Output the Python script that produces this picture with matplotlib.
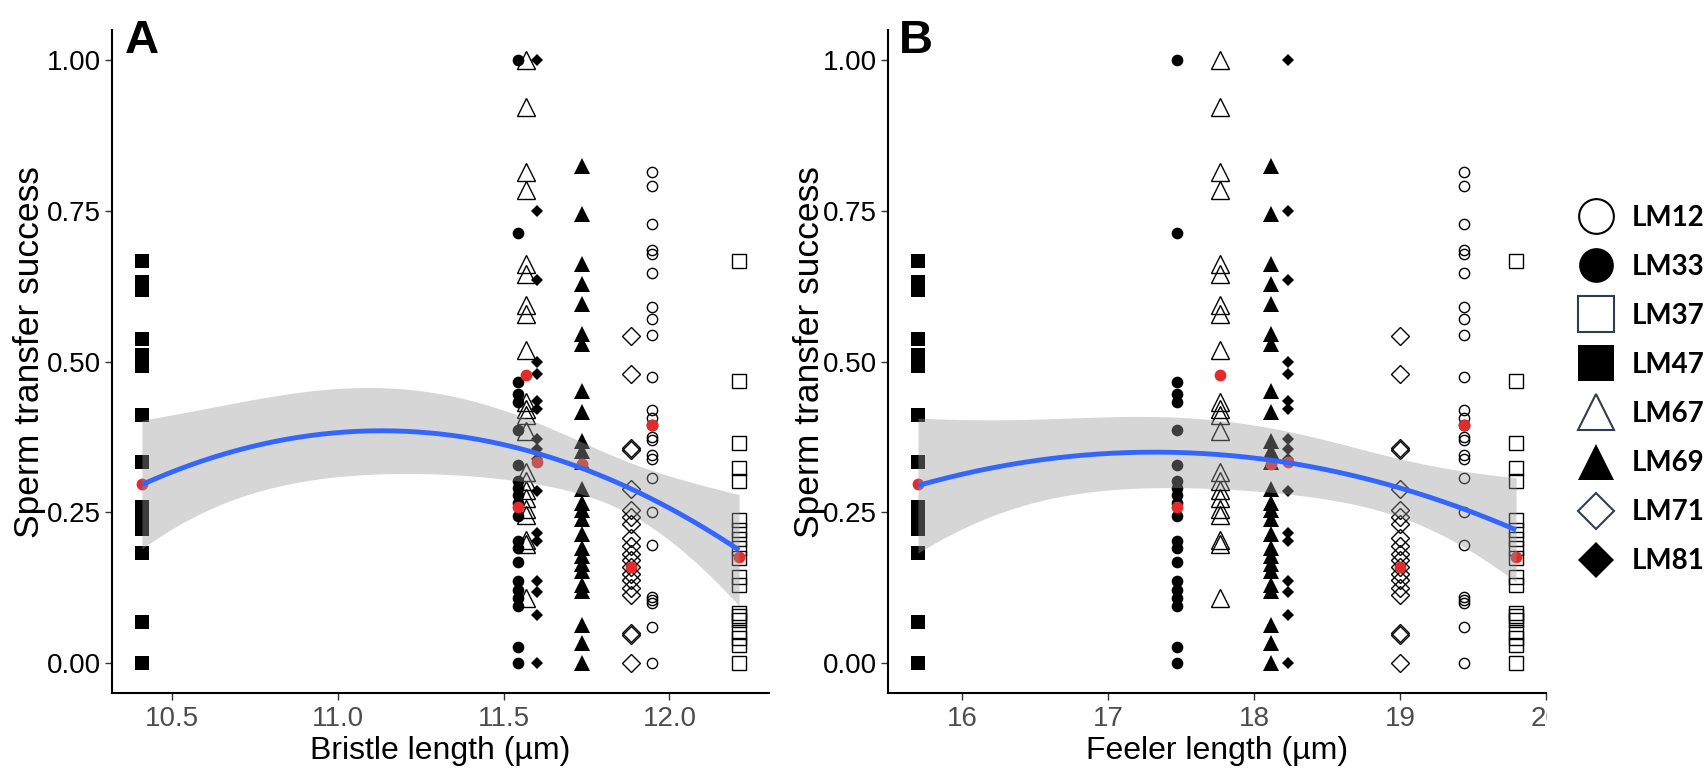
import numpy as np
import matplotlib
matplotlib.use("Agg")
import matplotlib.pyplot as plt
from matplotlib.lines import Line2D
from matplotlib.transforms import Bbox

plt.rcParams["font.family"] = ["Liberation Sans", "DejaVu Sans"]

# ------------------------------------------------------------
# data
# ------------------------------------------------------------
LINES = ["LM12", "LM33", "LM37", "LM47", "LM67", "LM69", "LM71", "LM81"]
BRISTLE = [11.947, 11.545, 12.21, 10.41, 11.567, 11.735, 11.885, 11.602]
FEELER = [19.438, 17.468, 19.796, 15.695, 17.767, 18.116, 19.0, 18.229]
LINE_MEAN = [0.394, 0.258, 0.175, 0.296, 0.477, 0.330, 0.159, 0.334]

LM12 = [0.814, 0.792, 0.728, 0.685, 0.679, 0.647, 0.591, 0.571, 0.544, 0.475,
        0.419, 0.406, 0.394, 0.375, 0.370, 0.345, 0.338, 0.306, 0.250, 0.196,
        0.110, 0.105, 0.100, 0.060, 0.0]
LM33 = [1.0, 0.714, 0.466, 0.446, 0.433, 0.387, 0.328, 0.301, 0.290, 0.279,
        0.266, 0.243, 0.202, 0.191, 0.167, 0.135, 0.121, 0.108, 0.094, 0.027, 0.0]
LM37 = [0.667, 0.467, 0.364, 0.324, 0.301, 0.237, 0.220, 0.205, 0.190, 0.174,
        0.143, 0.129, 0.083, 0.077, 0.071, 0.052, 0.041, 0.030, 0.0]
LM47 = [0.667, 0.632, 0.619, 0.537, 0.510, 0.492, 0.411, 0.333, 0.258, 0.240,
        0.222, 0.183, 0.068, 0.0]
LM67 = [1.0, 0.923, 0.815, 0.784, 0.661, 0.645, 0.594, 0.578, 0.519, 0.433,
        0.422, 0.411, 0.384, 0.317, 0.302, 0.286, 0.273, 0.256, 0.245, 0.204,
        0.198, 0.108]
LM69 = [0.824, 0.744, 0.661, 0.628, 0.596, 0.545, 0.529, 0.451, 0.417, 0.368,
        0.352, 0.333, 0.288, 0.266, 0.253, 0.239, 0.213, 0.191, 0.178, 0.164,
        0.153, 0.129, 0.119, 0.062, 0.033, 0.0]
LM71 = [0.543, 0.480, 0.357, 0.353, 0.288, 0.253, 0.242, 0.231, 0.207, 0.194,
        0.180, 0.170, 0.159, 0.148, 0.137, 0.124, 0.113, 0.050, 0.046, 0.0]
LM81 = [1.0, 0.75, 0.636, 0.50, 0.48, 0.435, 0.422, 0.371, 0.355, 0.339,
        0.285, 0.215, 0.202, 0.136, 0.117, 0.079, 0.0]

SUCCESS = [LM12, LM33, LM37, LM47, LM67, LM69, LM71, LM81]

Y_TICKS = [0.0, 0.25, 0.5, 0.75, 1.0]
Y_TICK_LABELS = ["0.00", "0.25", "0.50", "0.75", "1.00"]
BRISTLE_TICKS = [10.5, 11.0, 11.5, 12.0]
BRISTLE_TICK_LABELS = ["10.5", "11.0", "11.5", "12.0"]
FEELER_TICKS = [16, 17, 18, 19, 20]
FEELER_TICK_LABELS = ["16", "17", "18", "19", "20"]

# marker style per line: (marker, filled, size in pt, legend size)
STYLE = {
    "LM12": ("o", False, 7.4, 25),
    "LM33": ("o", True, 8.4, 25),
    "LM37": ("s", False, 9.4, 26),
    "LM47": ("s", True, 9.4, 26),
    "LM67": ("^", False, 13.0, 26),
    "LM69": ("^", True, 11.0, 26),
    "LM71": ("D", False, 9.2, 18.5),
    "LM81": ("D", True, 6.4, 18.5),
}

RED = "#e32b2b"
BLUE = "#3366FF"
SE_MULT = 1.0
W, H = 1708, 771


def quad_fit(x, y, grid):
    # quadratic least-squares fit with a standard-error band
    x = np.asarray(x, float)
    y = np.asarray(y, float)
    c = x.mean()
    A = np.vander(x - c, 3)
    coef, *_ = np.linalg.lstsq(A, y, rcond=None)
    resid = y - A @ coef
    s2 = resid @ resid / (len(x) - 3)
    cov = s2 * np.linalg.inv(A.T @ A)
    G = np.vander(grid - c, 3)
    fit = G @ coef
    se = np.sqrt(np.einsum("ij,jk,ik->i", G, cov, G))
    return fit, fit - SE_MULT * se, fit + SE_MULT * se


def draw_panel(ax, xs, xlabel, ticks, ticklabels):
    for name, x, ys in zip(LINES, xs, SUCCESS):
        m, filled, ms, _ = STYLE[name]
        ax.plot(np.full(len(ys), x), ys, ls="none", marker=m, ms=ms,
                mfc="black" if filled else "none", mec="black",
                mew=0 if filled else 1.0, zorder=2)
    ax.plot(xs, LINE_MEAN, ls="none", marker="o", ms=8.5, mfc=RED,
            mec="none", zorder=3)

    grid = np.linspace(min(xs), max(xs), 200)
    fit, lo, hi = quad_fit(xs, LINE_MEAN, grid)
    ax.fill_between(grid, lo, hi, color="#999999", alpha=0.4, lw=0, zorder=4)
    ax.plot(grid, fit, color=BLUE, lw=3.5, zorder=5, solid_capstyle="butt")

    pad = 0.05 * (max(xs) - min(xs))
    ax.set_xlim(min(xs) - pad, max(xs) + pad)
    ax.set_ylim(-0.05, 1.05)
    ax.set_yticks(Y_TICKS, Y_TICK_LABELS)
    ax.set_xticks(ticks, ticklabels)

    for s in ["top", "right"]:
        ax.spines[s].set_visible(False)
    for s in ["left", "bottom"]:
        ax.spines[s].set_linewidth(1.5)
        ax.spines[s].set_color("black")
    ax.tick_params(length=5, width=1, color="#333333", labelsize=20, pad=3)
    ax.tick_params(axis="x", labelcolor="#4d4d4d", pad=4)
    ax.tick_params(axis="y", labelcolor="black")

    ax.set_xlabel(xlabel, fontsize=23, va="center")
    ax.set_ylabel("Sperm transfer success", fontsize=25.5, va="center")
    ax.xaxis.set_label_coords(0.5, -0.087)


fig = plt.figure(figsize=(W / 100, H / 100), dpi=100)
axA = fig.add_axes([112 / W, 78 / H, 657 / W, 663 / H])
axB = fig.add_axes([888 / W, 78 / H, 658 / W, 663 / H])

draw_panel(axA, BRISTLE, "Bristle length (µm)", BRISTLE_TICKS, BRISTLE_TICK_LABELS)
draw_panel(axB, FEELER, "Feeler length (µm)", FEELER_TICKS, FEELER_TICK_LABELS)
axA.yaxis.set_label_coords(-0.126, 0.514)
axB.yaxis.set_label_coords(-0.120, 0.514)

# the last feeler tick label is cut at the panel edge in the original
last = axB.xaxis.get_major_ticks()[-1].label1
last.set_clip_box(Bbox.from_extents(0, 0, 1547, H))
last.set_clip_on(True)

fig.text(125 / W, 1 - 53 / H, "A", fontsize=34, fontweight="bold", va="baseline")
fig.text(899 / W, 1 - 53 / H, "B", fontsize=34, fontweight="bold", va="baseline")

handles = []
for name in LINES:
    m, filled, _, lms = STYLE[name]
    edge = "black" if m == "o" else "#2f3e4e"
    handles.append(Line2D([], [], ls="none", marker=m, ms=lms,
                          mfc="black" if filled else "white",
                          mec="black" if filled else edge,
                          mew=0 if filled else 1.5))
fig.legend(handles, LINES, loc="upper left", bbox_to_anchor=(1579 / W, 1 - 205 / H),
           frameon=False, borderpad=0, borderaxespad=0, handlelength=1.2,
           handletextpad=0.7, labelspacing=0.83,
           prop={"family": ["Lato", "DejaVu Sans"], "weight": "bold", "size": 20})

fig.savefig("out.png", dpi=100)
